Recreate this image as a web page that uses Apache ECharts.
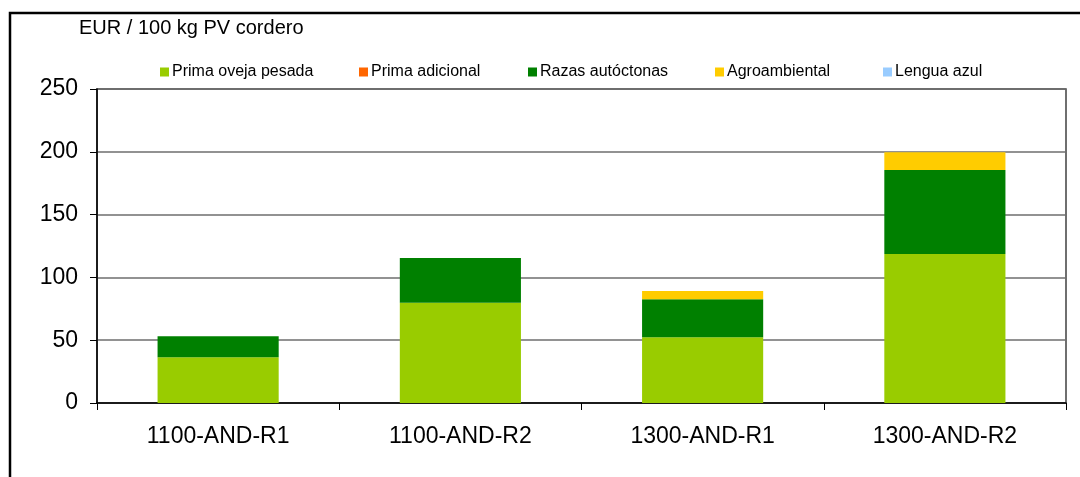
<!DOCTYPE html>
<html>
<head>
<meta charset="utf-8">
<script src="https://cdn.jsdelivr.net/npm/echarts@6/dist/echarts.min.js"></script>
<style>
  html, body { margin: 0; padding: 0; background: #fff; }
  #chart { width: 1080px; height: 477px; }
</style>
</head>
<body>
<div id="chart"></div>
<script>
// Ayudas por 100 kg de peso vivo de cordero, por explotación tipo
const categories = ['1100-AND-R1', '1100-AND-R2', '1300-AND-R1', '1300-AND-R2'];
const primaOvejaPesada = [36.5, 79.8, 52.4, 118.6];
const primaAdicional   = [0, 0, 0, 0];
const razasAutoctonas  = [16.7, 35.6, 30.3, 67.0];
const agroambiental    = [0, 0, 6.4, 14.1];
const lenguaAzul       = [0, 0, 0, 0];
const yTicks = [0, 50, 100, 150, 200, 250];

const seriesDefs = [
  { name: 'Prima oveja pesada', data: primaOvejaPesada, color: '#99CC00', legendLeft: 160 },
  { name: 'Prima adicional',    data: primaAdicional,   color: '#FF6600', legendLeft: 359 },
  { name: 'Razas autóctonas',   data: razasAutoctonas,  color: '#008000', legendLeft: 528 },
  { name: 'Agroambiental',      data: agroambiental,    color: '#FFCC00', legendLeft: 715 },
  { name: 'Lengua azul',        data: lenguaAzul,       color: '#99CCFF', legendLeft: 883 }
];

const FONT = 'Liberation Sans, Arial, sans-serif';
const chart = echarts.init(document.getElementById('chart'));

chart.setOption({
  animation: false,
  backgroundColor: '#ffffff',
  textStyle: { fontFamily: FONT, color: '#000' },
  title: {
    text: 'EUR / 100 kg PV cordero',
    left: 79,
    top: 18,
    padding: 0,
    textStyle: { fontFamily: FONT, fontSize: 20, fontWeight: 'normal', color: '#000' }
  },
  legend: seriesDefs.map(s => ({
    data: [s.name],
    left: s.legendLeft,
    top: 64,
    itemWidth: 9,
    itemHeight: 9,
    itemGap: 0,
    padding: 0,
    icon: 'rect',
    selectedMode: false,
    textStyle: { fontFamily: FONT, fontSize: 16, color: '#000', padding: [0, 0, 0, -2] }
  })),
  graphic: [{
    type: 'rect',
    silent: true,
    shape: { x: 10, y: 13, width: 1100, height: 500 },
    style: { fill: 'none', stroke: '#000', lineWidth: 2.5 }
  }],
  grid: {
    left: 97, right: 14, top: 89, bottom: 74,
    show: true, borderColor: '#404040', borderWidth: 1.5, backgroundColor: 'transparent'
  },
  xAxis: {
    type: 'category',
    data: categories,
    boundaryGap: true,
    axisLine: { lineStyle: { color: '#000', width: 1.5 } },
    axisTick: { show: true, length: 7, lineStyle: { color: '#000' } },
    axisLabel: { fontFamily: FONT, fontSize: 23, color: '#000', margin: 22 }
  },
  yAxis: {
    type: 'value',
    min: yTicks[0],
    max: yTicks[yTicks.length - 1],
    interval: 50,
    axisLine: { show: true, lineStyle: { color: '#000', width: 1.5 } },
    axisTick: { show: true, length: 7, lineStyle: { color: '#000' } },
    axisLabel: { fontFamily: FONT, fontSize: 23, color: '#000', margin: 19 },
    splitLine: { show: true, lineStyle: { color: '#6e6e6e', width: 1.5 } }
  },
  series: seriesDefs.map(s => ({
    name: s.name,
    type: 'bar',
    stack: 'total',
    data: s.data,
    barCategoryGap: '50%',
    itemStyle: { color: s.color },
    emphasis: { disabled: true }
  }))
});
</script>
</body>
</html>
